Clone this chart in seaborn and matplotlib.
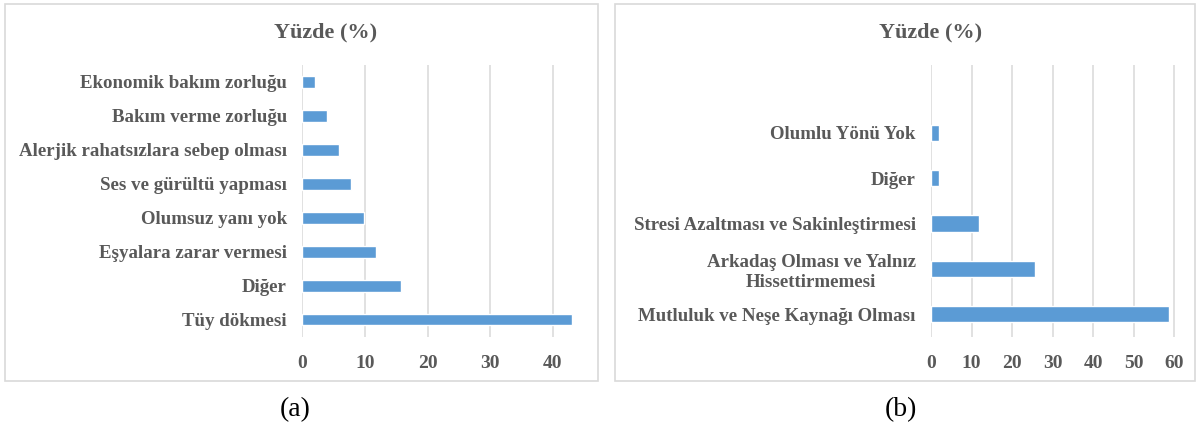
import matplotlib
matplotlib.use("Agg")
import matplotlib.pyplot as plt
from matplotlib.patches import Rectangle
import seaborn as sns
import pandas as pd

# Panel (a): negative aspects of pet ownership
neg_labels = [
    "Ekonomik bakım zorluğu",
    "Bakım verme zorluğu",
    "Alerjik rahatsızlara sebep olması",
    "Ses ve gürültü yapması",
    "Olumsuz yanı yok",
    "Eşyalara zarar vermesi",
    "Diğer",
    "Tüy dökmesi",
]
neg_values = [2.0, 4.0, 5.9, 7.8, 9.8, 11.8, 15.8, 43.1]

# Panel (b): positive aspects of pet ownership
pos_labels = [
    "Olumlu Yönü Yok",
    "Diğer",
    "Stresi Azaltması ve Sakinleştirmesi",
    "Arkadaş Olması ve Yalnız\nHissettirmemesi",
    "Mutluluk ve Neşe Kaynağı Olması",
]
pos_values = [2.0, 2.0, 11.9, 25.6, 58.8]

title_text = "Yüzde (%)"
captions = ["(a)", "(b)"]

sns.set_theme(style="white")
plt.rcParams["font.family"] = ["Liberation Serif", "DejaVu Serif"]

BAR = "#5B9BD5"
TXT = "#595959"
GRID = "#D9D9D9"

W, H = 1197, 433
fig = plt.figure(figsize=(W / 100, H / 100), dpi=100)


def px_box(x0, y0, x1, y1):
    return [x0 / W, 1 - y1 / H, (x1 - x0) / W, (y1 - y0) / H]


def style_axis(ax, ticks):
    ax.set_xticks(ticks)
    ax.set_xlabel("")
    ax.set_ylabel("")
    ax.grid(axis="x", color=GRID, linewidth=1.1)
    ax.grid(axis="y", visible=False)
    ax.set_axisbelow(True)
    for s in ax.spines.values():
        s.set_visible(False)
    ax.tick_params(axis="both", length=0, colors=TXT)
    ax.tick_params(axis="y", pad=11)
    ax.tick_params(axis="x", pad=13)
    for lab in ax.get_xticklabels() + ax.get_yticklabels():
        lab.set_fontweight("bold")
        lab.set_color(TXT)
    for lab in ax.get_yticklabels():
        lab.set_fontsize(13.6)
        lab.set_multialignment("center")
        lab.set_linespacing(1.25)
    for lab in ax.get_xticklabels():
        lab.set_fontsize(14)


# Panel frames
fig.patches.append(Rectangle((5 / W, 1 - 381 / H), 593 / W, 377 / H,
                             transform=fig.transFigure, fill=False,
                             edgecolor=GRID, linewidth=1.2))
fig.patches.append(Rectangle((615 / W, 1 - 381 / H), 580 / W, 377 / H,
                             transform=fig.transFigure, fill=False,
                             edgecolor=GRID, linewidth=1.2))

# Panel (a)
df_a = pd.DataFrame({"label": neg_labels, "value": neg_values})
ax_a = fig.add_axes(px_box(302.3, 65, 302.3 + 45 * 6.26, 336.7))
sns.barplot(data=df_a, y="label", x="value", orient="h", color=BAR,
            width=0.34, saturation=1, ax=ax_a)
ax_a.set_xlim(0, 45)
ax_a.set_ylim(len(neg_labels) - 0.5, -0.5)
style_axis(ax_a, [0, 10, 20, 30, 40])

# Panel (b): one empty slot above the first category
df_b = pd.DataFrame({"label": pos_labels, "value": pos_values})
ax_b = fig.add_axes(px_box(931, 65, 931 + 60.6 * 4.055, 336.7))
sns.barplot(data=df_b, y="label", x="value", orient="h", color=BAR,
            width=0.36, saturation=1, ax=ax_b)
ax_b.set_xlim(0, 60.6)
ax_b.set_ylim(len(pos_labels) - 0.5, -1.5)
style_axis(ax_b, [0, 10, 20, 30, 40, 50, 60])

# Titles and captions
for xc in (326, 931):
    fig.text(xc / W, 1 - 32 / H, title_text, ha="center", va="center",
             fontsize=16, fontweight="bold", color=TXT)
for xc, cap in zip((295, 901), captions):
    fig.text(xc / W, 1 - 410 / H, cap, ha="center", va="center",
             fontsize=20, color="black")

fig.savefig("out.png", dpi=100, facecolor="white")
